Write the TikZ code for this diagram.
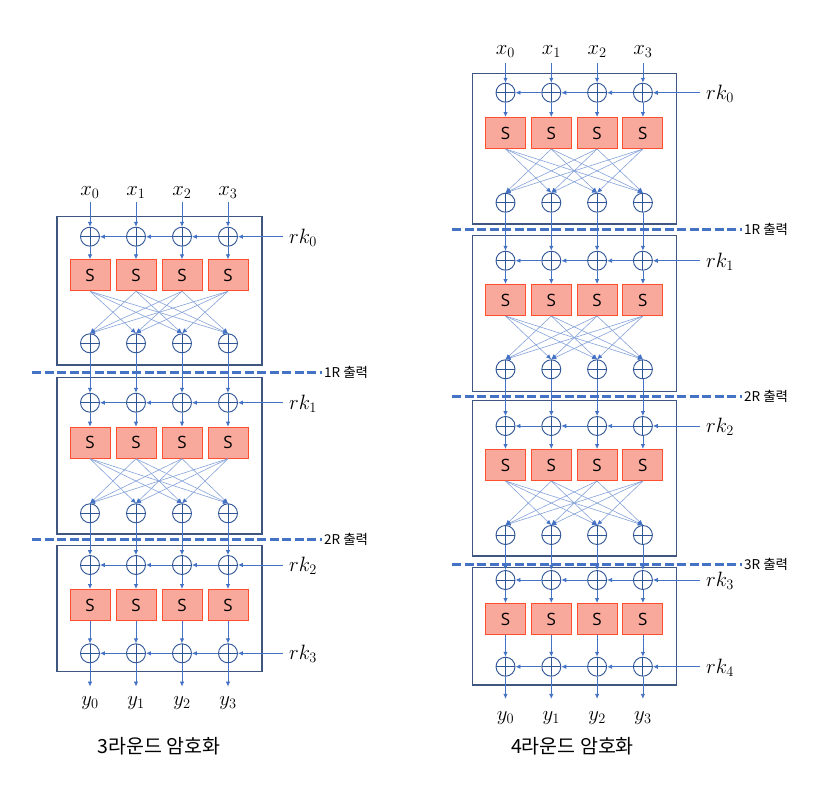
\documentclass[tikz,border=0pt]{standalone}
\usepackage{fontspec}
\newfontfamily\krfont{Noto Sans CJK KR}
\newfontfamily\sbfont{Open Sans}
\usetikzlibrary{arrows.meta}
\definecolor{lineblue}{HTML}{4472C4}
\definecolor{fanblue}{HTML}{86A3D9}
\definecolor{xorblue}{HTML}{2F5597}
\definecolor{boxline}{HTML}{3F5680}
\definecolor{sfill}{HTML}{F8A99B}
\definecolor{sline}{HTML}{FF4F2E}
\tikzset{
  xorop/.style={circle, draw=xorblue, line width=0.9pt, minimum size=19pt, inner sep=0pt,
    path picture={\draw[xorblue, line width=0.9pt]
      (path picture bounding box.north) -- (path picture bounding box.south)
      (path picture bounding box.west) -- (path picture bounding box.east);}},
  sbox/.style={draw=sline, fill=sfill, line width=1pt, minimum width=40pt, minimum height=31pt,
    inner sep=0pt, font=\sbfont\fontsize{17}{19}\selectfont},
  roundbox/.style={draw=boxline, line width=1.2pt},
  flow/.style={draw=lineblue, line width=0.8pt, -{Latex[length=5pt,width=4.5pt]}},
  fan/.style={draw=fanblue, line width=0.6pt, -{Latex[length=5pt,width=4.5pt,color=lineblue]}},
  dashln/.style={draw=lineblue, line width=3pt, dash pattern=on 9pt off 3.5pt},
  mathlbl/.style={inner sep=0pt, font=\fontsize{20.74}{24}\selectfont},
  outlbl/.style={inner sep=1pt, font=\krfont\fontsize{13.5}{15}\selectfont},
  titlelbl/.style={inner sep=0pt, font=\krfont\fontsize{19.5}{22}\selectfont}
}
\newcommand\mkround[5]{%
  \foreach \i/\x in #2 {
    \node[xorop] (#1a\i) at (\x,#3) {};
    \node[sbox] (#1s\i) at (\x,#4) {S};
    \node[xorop] (#1b\i) at (\x,#5) {};
    \draw[flow] (#1a\i) -- (#1s\i);
  }}
\newcommand\mkfan[1]{%
  \foreach \i in {1,...,4}{\foreach \j in {1,...,4}{%
    \ifnum\i=\j\relax\else\draw[fan] (#1s\i.south) -- (#1b\j.north);\fi}}}
\newcommand\mkstraight[1]{\foreach \i in {1,...,4}{\draw[flow] (#1s\i) -- (#1b\i);}}
\newcommand\mkkey[5]{%
  \coordinate (#1k) at (#2,#3);
  \node[mathlbl, anchor=base west] (#1kl) at (#4,#3+6.5) {$rk_{#5}$};
  \draw[flow] (#1k) -- (#14);
  \draw[flow] (#14) -- (#13);
  \draw[flow] (#13) -- (#12);
  \draw[flow] (#12) -- (#11);}
\newcommand\mklink[2]{\foreach \i in {1,...,4}{\draw[flow] (#1b\i) -- (#2a\i);}}
\newcommand\mkdash[5]{%
  \coordinate (#1l) at (#2,#4);
  \coordinate (#1r) at (#3,#4);
  \draw[dashln] (#1l) -- (#1r);
  \node[outlbl, anchor=west] (#1t) at (#3+1,#4) {#5};}
\begin{document}
\begin{tikzpicture}[x=1pt,y=-1pt]
\useasboundingbox[fill=white] (0,0) rectangle (828,798);
\def\colsL{1/90,2/136,3/182,4/228}
\def\colsR{1/505.5,2/551.3,3/597.1,4/642.9}
% ---------------- left: 3 rounds ----------------
\draw[roundbox] (57,216.7) rectangle (262,365);
\draw[roundbox] (57,377.3) rectangle (262,534);
\draw[roundbox] (57,545.7) rectangle (262,671.7);
\mkround{L1}{\colsL}{236.7}{275.3}{343.3}
\mkround{L2}{\colsL}{402.7}{442.7}{513.3}
\mkround{L3}{\colsL}{565}{605}{653.3}
\mkfan{L1}
\mkfan{L2}
\mkstraight{L3}
\mklink{L1}{L2}
\mklink{L2}{L3}
\mkkey{L1a}{283}{236.7}{289}{0}
\mkkey{L2a}{283}{402.7}{289}{1}
\mkkey{L3a}{283}{565}{289}{2}
\mkkey{L3b}{283}{653.3}{289}{3}
\foreach \i/\x/\k in {1/90/0,2/136/1,3/182/2,4/228/3}{
  \node[mathlbl, anchor=base] (Lx\i) at (\x,195) {$x_{\k}$};
  \draw[flow, shorten <=4pt] (Lx\i) -- (L1a\i);
  \node[mathlbl, anchor=base] (Ly\i) at (\x,705.7) {$y_{\k}$};
  \draw[flow, shorten >=10pt] (L3b\i) -- (Ly\i.north);
}
\mkdash{Ld1}{32}{322}{372.3}{1R 출력}
\mkdash{Ld2}{32}{322}{539}{2R 출력}
\node[titlelbl] (Ltitle) at (159,746) {3라운드 암호화};
% ---------------- right: 4 rounds ----------------
\draw[roundbox] (472.3,73.3) rectangle (676.7,224);
\draw[roundbox] (472.3,235.7) rectangle (676.7,391.7);
\draw[roundbox] (472.3,400.7) rectangle (676.7,556);
\draw[roundbox] (472.3,567.3) rectangle (676.7,685);
\mkround{R1}{\colsR}{92.7}{133}{202.7}
\mkround{R2}{\colsR}{260.7}{300}{369.3}
\mkround{R3}{\colsR}{426}{465}{535}
\mkround{R4}{\colsR}{580}{619}{666.7}
\mkfan{R1}
\mkfan{R2}
\mkfan{R3}
\mkstraight{R4}
\mklink{R1}{R2}
\mklink{R2}{R3}
\mklink{R3}{R4}
\mkkey{R1a}{700}{92.7}{706}{0}
\mkkey{R2a}{700}{260.7}{706}{1}
\mkkey{R3a}{700}{426}{706}{2}
\mkkey{R4a}{700}{580}{706}{3}
\mkkey{R4b}{700}{666.7}{706}{4}
\foreach \i/\x/\k in {1/505.5/0,2/551.3/1,3/597.1/2,4/642.9/3}{
  \node[mathlbl, anchor=base] (Rx\i) at (\x,54) {$x_{\k}$};
  \draw[flow, shorten <=6pt] (Rx\i) -- (R1a\i);
  \node[mathlbl, anchor=base] (Ry\i) at (\x,720) {$y_{\k}$};
  \draw[flow, shorten >=12pt] (R4b\i) -- (Ry\i.north);
}
\mkdash{Rd1}{452}{742}{229.3}{1R 출력}
\mkdash{Rd2}{452}{742}{396.7}{2R 출력}
\mkdash{Rd3}{452}{742}{564}{3R 출력}
\node[titlelbl] (Rtitle) at (572.5,746.5) {4라운드 암호화};
\end{tikzpicture}
\end{document}
